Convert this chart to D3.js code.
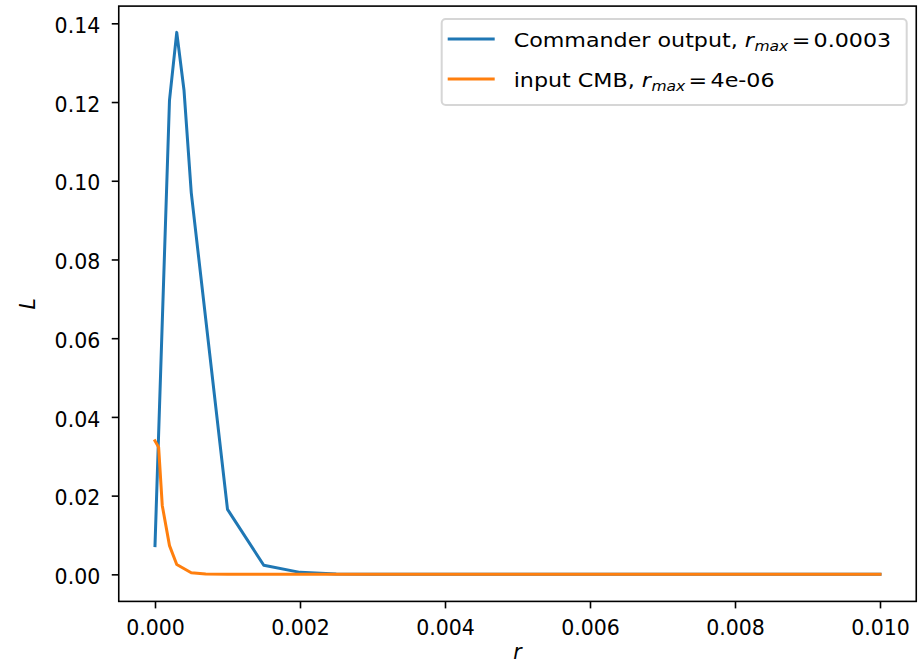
<html>
<head>
    <meta charset="UTF-8" />
    <script src="https://d3js.org/d3.v7.min.js"></script>
    <style>
        body { margin: 0; background: white; }
        text { font-family: "DejaVu Sans", sans-serif; fill: #000; }
        .axis path, .axis line { stroke: #000; stroke-width: 1.6px; }
        .axis text { font-size: 20.5px; }
    </style>
</head>
<body>
    <svg id="chart" width="924" height="668"></svg>
    <script>
        // r values and likelihoods
        const commanderR = [0, 0.0002, 0.0003, 0.0004, 0.0005, 0.001, 0.0015, 0.002, 0.0025, 0.003, 0.004, 0.005, 0.006, 0.007, 0.008, 0.009, 0.01];
        const commanderL = [0.0073, 0.1205, 0.1377, 0.123, 0.097, 0.0165, 0.0023, 0.0005, 0.0001, 0, 0, 0, 0, 0, 0, 0, 0];

        const cmbR = [0, 0.00005, 0.0001, 0.0002, 0.0003, 0.0005, 0.0007, 0.001, 0.002, 0.004, 0.006, 0.008, 0.01];
        const cmbL = [0.0339, 0.0323, 0.0175, 0.0073, 0.0025, 0.0004, 0.0001, 0, 0, 0, 0, 0, 0];

        const xTicks = [0, 0.002, 0.004, 0.006, 0.008, 0.010];
        const yTicks = [0, 0.02, 0.04, 0.06, 0.08, 0.10, 0.12, 0.14];

        const seriesNames = ["Commander output, ", "input CMB, "];
        const seriesRmax = ["0.0003", "4e-06"];
        const colors = ["#1f77b4", "#ff7f0e"];

        const svg = d3.select("#chart");
        const margin = { top: 6.1, right: 7.75, bottom: 66.6, left: 118.75 };
        const w = 924 - margin.left - margin.right;
        const h = 668 - margin.top - margin.bottom;

        const x = d3.scaleLinear().domain([-0.0005, 0.0105]).range([0, w]);
        const y = d3.scaleLinear().domain([-0.006875, 0.144375]).range([h, 0]);

        const g = svg.append("g")
            .attr("transform", "translate(" + margin.left + "," + margin.top + ")");

        // axes
        const xAxis = g.append("g").attr("class", "axis")
            .attr("transform", "translate(0," + h + ")")
            .call(d3.axisBottom(x).tickValues(xTicks).tickFormat(d3.format(".3f"))
                .tickSize(7).tickSizeOuter(0).tickPadding(12));
        xAxis.select(".domain").remove();

        const yAxis = g.append("g").attr("class", "axis")
            .call(d3.axisLeft(y).tickValues(yTicks).tickFormat(d3.format(".2f"))
                .tickSize(7).tickSizeOuter(0).tickPadding(11.5));
        yAxis.select(".domain").remove();
        yAxis.selectAll("text").attr("dy", "0.45em");

        // lines
        const line = d3.line().x(d => x(d[0])).y(d => y(d[1]));
        const series = [
            d3.zip(commanderR, commanderL),
            d3.zip(cmbR, cmbL)
        ];
        g.selectAll("path.series").data(series)
            .join("path")
            .attr("class", "series")
            .attr("d", line)
            .attr("fill", "none")
            .attr("stroke", (d, i) => colors[i])
            .attr("stroke-width", 3)
            .attr("stroke-linejoin", "round")
            .attr("stroke-linecap", "square");

        // frame
        g.append("rect")
            .attr("width", w).attr("height", h)
            .attr("fill", "none")
            .attr("stroke", "#000")
            .attr("stroke-width", 1.6);

        // axis labels
        g.append("text")
            .attr("x", w / 2).attr("y", h + 58)
            .attr("text-anchor", "middle")
            .style("font-size", "20.5px").style("font-style", "italic")
            .text("r");
        g.append("text")
            .attr("transform", "translate(" + (-84) + "," + (h / 2) + ") rotate(-90)")
            .attr("text-anchor", "middle")
            .style("font-size", "20.5px").style("font-style", "italic")
            .text("L");

        // legend
        const legend = g.append("g")
            .attr("transform", "translate(" + (441.7 - margin.left) + "," + (19 - margin.top) + ")");
        legend.append("rect")
            .attr("width", 465).attr("height", 86)
            .attr("rx", 4).attr("ry", 4)
            .attr("fill", "white").attr("fill-opacity", 0.8)
            .attr("stroke", "#cccccc").attr("stroke-opacity", 0.8)
            .attr("stroke-width", 2);

        seriesNames.forEach((name, i) => {
            const row = legend.append("g").attr("transform", "translate(0," + (20 + i * 40) + ")");
            row.append("line")
                .attr("x1", 6).attr("x2", 53)
                .attr("stroke", colors[i]).attr("stroke-width", 3);
            const t = row.append("text")
                .attr("transform", "translate(72,7.5) scale(1.11,1)")
                .style("font-size", "20px");
            t.append("tspan").text(name);
            t.append("tspan").style("font-style", "italic").text("r");
            t.append("tspan").style("font-style", "italic").style("font-size", "14px")
                .attr("dx", 0.5).attr("dy", 4).text("max");
            t.append("tspan").attr("dy", -4).attr("dx", 3).text("=");
            t.append("tspan").attr("dx", 3).text(seriesRmax[i]);
        });
    </script>
</body>
</html>
